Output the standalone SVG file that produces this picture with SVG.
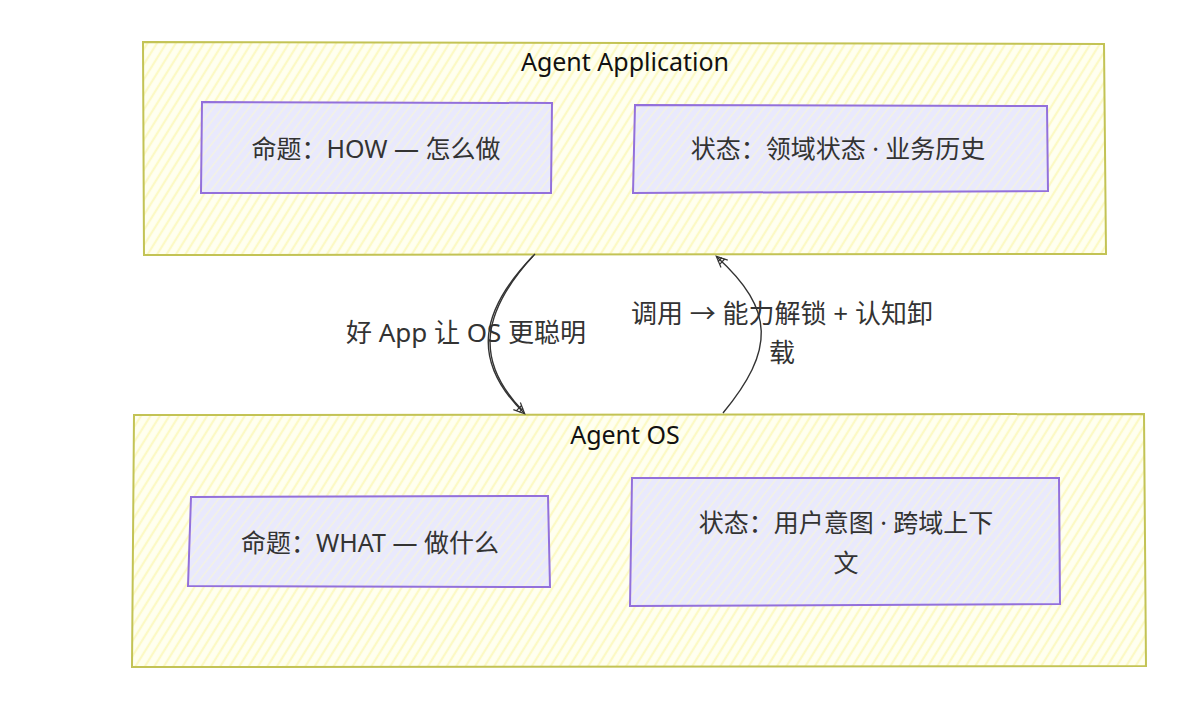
<svg xmlns="http://www.w3.org/2000/svg" width="1200" height="709" viewBox="0 0 1200 709">
<defs>
<pattern id="hy" width="8" height="8" patternUnits="userSpaceOnUse" patternTransform="rotate(-58)">
<rect width="8" height="8" fill="#fffff0"/>
<line x1="0" y1="4" x2="8" y2="4" stroke="#fcf9c4" stroke-width="2.2"/>
</pattern>
<pattern id="hp" width="7" height="7" patternUnits="userSpaceOnUse" patternTransform="rotate(-52)">
<rect width="7" height="7" fill="#e9e9fd"/>
<line x1="0" y1="3.5" x2="7" y2="3.5" stroke="#f4f3e0" stroke-width="1.4"/>
</pattern>
<marker id="ah" markerWidth="14" markerHeight="14" refX="11" refY="7" orient="auto" markerUnits="userSpaceOnUse">
<path d="M1,2 L12,7 L1,12 M4,3 L4,11 M7,4 L7,10" fill="none" stroke="#333" stroke-width="1.2"/>
</marker>
<style>
.cont{fill:url(#hy);stroke:#c3c355;stroke-width:2}
.box{fill:url(#hp);stroke:#9370db;stroke-width:2}
.t{font-family:"Noto Sans","Noto Sans CJK SC",sans-serif;font-size:25px;fill:#333;text-anchor:middle}
.l{font-family:"Noto Sans","Noto Sans CJK SC",sans-serif;font-size:26px;fill:#333;text-anchor:middle}
.h{font-family:"Noto Sans","Noto Sans CJK SC",sans-serif;font-size:25px;fill:#111;text-anchor:middle}
.c{fill:none;stroke:#333;stroke-width:1.4}
</style>
</defs>
<rect width="1200" height="709" fill="#fff"/>
<g id="app">
<path class="cont" d="M143,42 L1104,44 L1106,254 L144,255 Z"/>
<text class="h" x="625" y="71">Agent Application</text>
</g>
<g id="app-prop">
<path class="box" d="M202,102 L552,103 L551,193 L201,193 Z"/>
<text class="t" x="376" y="158">命题：HOW — 怎么做</text>
</g>
<g id="app-state">
<path class="box" d="M635,105 L1047,106 L1048,191 L633,193 Z"/>
<text class="t" x="838" y="158">状态：领域状态 · 业务历史</text>
</g>
<g id="os">
<path class="cont" d="M134,415 L1144,414 L1146,666 L132,667 Z"/>
<text class="h" x="625" y="444">Agent OS</text>
</g>
<g id="os-prop">
<path class="box" d="M191,497 L548,496 L550,587 L188,586 Z"/>
<text class="t" x="370" y="552">命题：WHAT — 做什么</text>
</g>
<g id="os-state">
<path class="box" d="M632,478 L1059,478 L1060,604 L630,606 Z"/>
<text class="t" x="846" y="532">状态：用户意图 · 跨域上下</text>
<text class="t" x="846" y="572">文</text>
</g>
<g id="connectors">
<path class="c" d="M535,254 C480,310 470,360 524,413" marker-end="url(#ah)"/>
<path class="c" d="M533,256 C482,312 474,360 522,410"/>
<path class="c" d="M723,413 C775,350 775,310 717,257" marker-end="url(#ah)"/>
<text class="l" x="466" y="342">好 App 让 OS 更聪明</text>
<text class="l" x="782" y="323">调用 → 能力解锁 + 认知卸</text>
<text class="l" x="782" y="362">载</text>
</g>
</svg>
